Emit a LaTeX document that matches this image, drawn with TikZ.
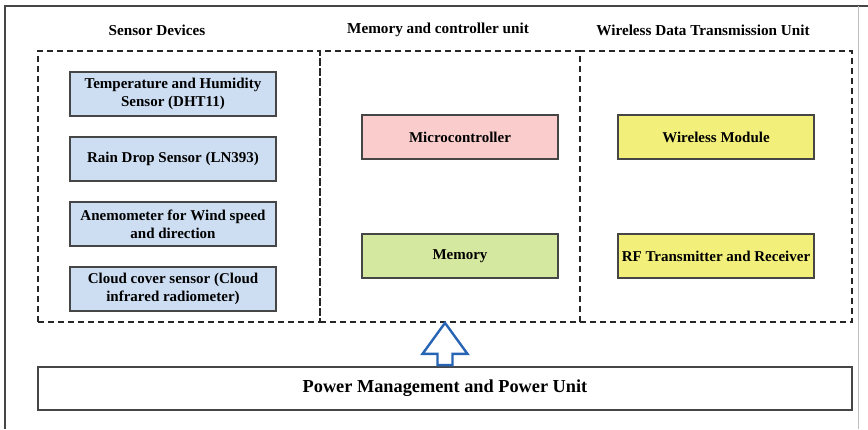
\documentclass[tikz,border=0pt]{standalone}
\usepackage{fontspec}
\setmainfont{Liberation Serif}
\usetikzlibrary{calc}

\definecolor{sensorblue}{RGB}{205,222,242}
\definecolor{micropink}{RGB}{250,204,204}
\definecolor{memgreen}{RGB}{212,232,160}
\definecolor{wlyellow}{RGB}{242,240,122}
\definecolor{arrowblue}{RGB}{40,100,180}
\definecolor{edgegray}{RGB}{70,70,70}

\begin{document}
\begin{tikzpicture}[x=1pt, y=-1pt,
        blockbox/.style={draw=edgegray, line width=1.8pt, align=center, font=\bfseries\fontsize{15}{18}\selectfont, inner sep=0pt, minimum height=44pt},
        groupbox/.style={draw=black!85, line width=1.8pt, dash pattern=on 6pt off 4pt, minimum height=271pt, inner sep=0pt},
        grouptitle/.style={font=\bfseries\fontsize{15.2}{17}\selectfont}]
                \useasboundingbox (0,0) rectangle (868,429);
                % outer frame
                \draw[edgegray, line width=2.2pt] (5,429) -- (5,6) -- (868,6);
                \draw[black!25, line width=0.8pt] (858,6) -- (858,429);

                \node[groupbox, minimum width=282pt] (sens) at (179,186.5) {};
                \node[groupbox, minimum width=260pt] (ctrl) at (450,186.5) {};
                \node[groupbox, minimum width=272pt] (wless) at (716,186.5) {};

                \node[grouptitle] (t1) at (157,30) {Sensor Devices};
                \node[grouptitle] (t2) at (438,30) {Memory and controller unit};
                \node[grouptitle] (t3) at (703,30) {Wireless Data Transmission Unit};

                \node[blockbox, fill=sensorblue, minimum width=206pt] (s1) at (173,94) {Temperature and Humidity\\Sensor (DHT11)};
                \node[blockbox, fill=sensorblue, minimum width=206pt] (s2) at (173,159) {Rain Drop Sensor (LN393)};
                \node[blockbox, fill=sensorblue, minimum width=206pt] (s3) at (173,224) {Anemometer for Wind speed\\and direction};
                \node[blockbox, fill=sensorblue, minimum width=206pt] (s4) at (173,289) {Cloud cover sensor (Cloud\\infrared radiometer)};

                \node[blockbox, fill=micropink, minimum width=196pt] (mcu) at (460,137) {Microcontroller};
                \node[blockbox, fill=memgreen, minimum width=196pt] (mem) at (460,256) {Memory};

                \node[blockbox, fill=wlyellow, minimum width=196pt] (wm) at (716,137) {Wireless Module};
                \node[blockbox, fill=wlyellow, minimum width=196pt] (rf) at (716,256) {RF Transmitter and Receiver};

                \node[blockbox, fill=white, minimum width=814pt, minimum height=43pt, font=\bfseries\fontsize{18.3}{20}\selectfont] (pwr) at (445,388.5) {Power Management and Power Unit};

                % hollow power arrow
                \coordinate (tip) at (pwr.north |- ctrl.south);
                \draw[arrowblue, line width=2.4pt, line join=miter, fill=white]
                    ($(pwr.north)+(-7.5,-1)$) -- ($(tip)+(-7.5,31)$) -- ($(tip)+(-22.5,31)$)
                    -- (tip) -- ($(tip)+(22.5,31)$) -- ($(tip)+(7.5,31)$) -- ($(pwr.north)+(7.5,-1)$) -- cycle;
            \end{tikzpicture}
\end{document}
